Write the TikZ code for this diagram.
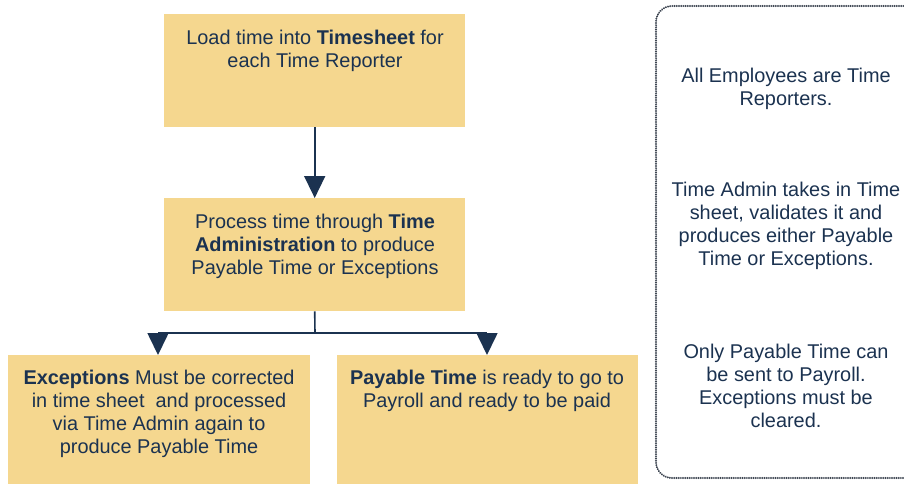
\documentclass[tikz,border=0pt]{standalone}
\usepackage{fontspec}
\setmainfont{Liberation Sans}
\usetikzlibrary{arrows.meta}
\definecolor{boxfill}{HTML}{F5D78F}
\definecolor{navy}{HTML}{1B3250}
\definecolor{dotc}{HTML}{3E4652}
\begin{document}
\begin{tikzpicture}[x=1pt,y=-1pt,
  box/.style={fill=boxfill,draw=none,anchor=north west,inner sep=0pt},
  txt/.style={anchor=north,align=center,text=navy,inner sep=0pt,font=\fontsize{19.9}{22.8}\selectfont},
  conn/.style={draw=navy,line width=1.6pt},
  tip/.style={-{Triangle[width=21pt,length=22pt]}}]
\useasboundingbox (0,0) rectangle (904,483);
\node[box,minimum width=301pt,minimum height=113pt] (b1) at (164,14) {};
\node[box,minimum width=301pt,minimum height=113pt] (b2) at (164,198) {};
\node[box,minimum width=302pt,minimum height=130pt] (b3) at (8,355) {};
\node[box,minimum width=301pt,minimum height=130pt] (b4) at (337,355) {};
\node[txt] (t1) at (315,30) {Load time into \textbf{Timesheet} for\\each Time Reporter};
\node[txt] (t2) at (315,214) {Process time through \textbf{Time}\\\textbf{Administration} to produce\\Payable Time or Exceptions};
\node[txt] (t3) at (159,370) {\textbf{Exceptions} Must be corrected\\in time sheet\ \ and processed\\via Time Admin again to\\produce Payable Time};
\node[txt] (t4) at (487,370) {\textbf{Payable Time} is ready to go to\\Payroll and ready to be paid};
\draw[dotc,line width=2.1pt,dash pattern=on 0.1pt off 2.1pt,line cap=round,rounded corners=16pt] (910,6) -- (656,6) -- (656,478) -- (910,478);
\node[txt] (n1) at (786,68) {All Employees are Time\\Reporters.};
\node[txt] (n2) at (786,182) {Time Admin takes in Time\\sheet, validates it and\\produces either Payable\\Time or Exceptions.};
\node[txt] (n3) at (786,344) {Only Payable Time can\\be sent to Payroll.\\Exceptions must be\\cleared.};
\coordinate (j) at (315,333);
\coordinate (jl) at (158,333);
\coordinate (jr) at (487,333);
\draw[conn,tip,navy] (b1.south) -- (b2.north);
\draw[conn] (b2.south) -- (j);
\draw[conn] (jl) -- (jr);
\draw[conn,tip,navy] (jl) -- (jl |- b3.north);
\draw[conn,tip,navy] (jr) -- (jr |- b4.north);
\end{tikzpicture}
\end{document}
